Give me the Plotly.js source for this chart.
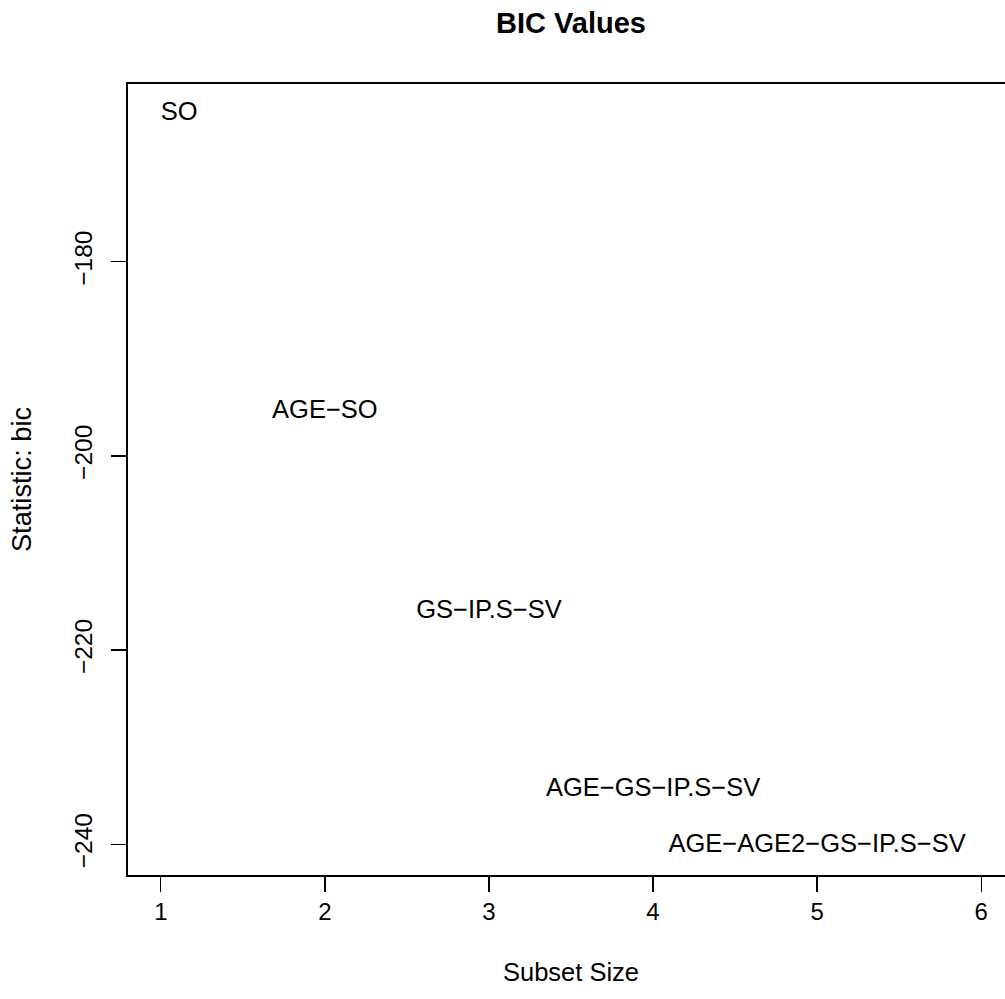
<!DOCTYPE html>
<html>
<head>
<meta charset="utf-8">
<script src="https://cdn.plot.ly/plotly-3.0.1.min.js"></script>
<style>
  html, body { margin: 0; padding: 0; overflow: hidden; background: #fff; }
  #chart { width: 1030px; height: 999px; }
</style>
</head>
<body>
<div id="chart"></div>
<script>
// Data
const subsetSizes = [1, 2, 3, 4, 5];
const bicValues = [-164.7, -195.4, -216.0, -234.4, -240.15];
const modelLabels = ["SO", "AGE\u2212SO", "GS\u2212IP.S\u2212SV", "AGE\u2212GS\u2212IP.S\u2212SV", "AGE\u2212AGE2\u2212GS\u2212IP.S\u2212SV"];
const xTickVals = [1, 2, 3, 4, 5, 6];
const yTickVals = [-240, -220, -200, -180];
const yTickText = ["\u2212240", "\u2212220", "\u2212200", "\u2212180"];

const FONT = "Liberation Sans, Arial, Helvetica, sans-serif";

const trace = {
  x: subsetSizes,
  y: bicValues,
  text: modelLabels,
  mode: "text",
  type: "scatter",
  textposition: subsetSizes.map((s, i) => i === 0 ? "middle right" : "middle center"),
  textfont: { family: FONT, size: 25.5, color: "#000" },
  hoverinfo: "skip",
  showlegend: false,
  cliponaxis: false
};

const layout = {
  width: 1030,
  height: 999,
  margin: { l: 128, r: 16, t: 84, b: 124 },
  paper_bgcolor: "#fff",
  plot_bgcolor: "#fff",
  font: { family: FONT, size: 24, color: "#000" },
  title: {
    text: "<b>BIC Values</b>",
    font: { family: FONT, size: 29, color: "#000" },
    x: 0.5, xref: "paper",
    y: 1 - 23 / 999, yref: "container", yanchor: "middle"
  },
  xaxis: {
    range: [0.8, 6.2],
    tickvals: xTickVals,
    ticktext: xTickVals.map(String),
    ticks: "outside", ticklen: 15, tickwidth: 1.3, tickcolor: "#000",
    ticklabelstandoff: 11.5,
    showline: true, mirror: true, linecolor: "#000", linewidth: 1.6,
    showgrid: false, zeroline: false,
    tickfont: { family: FONT, size: 24, color: "#000" },
    title: { text: "Subset Size", font: { family: FONT, size: 25.5, color: "#000" }, standoff: 38.5 },
    automargin: false
  },
  yaxis: {
    range: [-243.16, -161.69],
    tickvals: yTickVals,
    ticktext: yTickText,
    tickangle: -90,
    ticks: "outside", ticklen: 15, tickwidth: 1.3, tickcolor: "#000",
    ticklabelstandoff: 10,
    showline: true, mirror: true, linecolor: "#000", linewidth: 1.6,
    showgrid: false, zeroline: false,
    tickfont: { family: FONT, size: 24.5, color: "#000" },
    title: { text: "Statistic: bic", font: { family: FONT, size: 27.2, color: "#000" }, standoff: 30 },
    automargin: false
  }
};

Plotly.newPlot("chart", [trace], layout, { staticPlot: true, displayModeBar: false });
</script>
</body>
</html>
